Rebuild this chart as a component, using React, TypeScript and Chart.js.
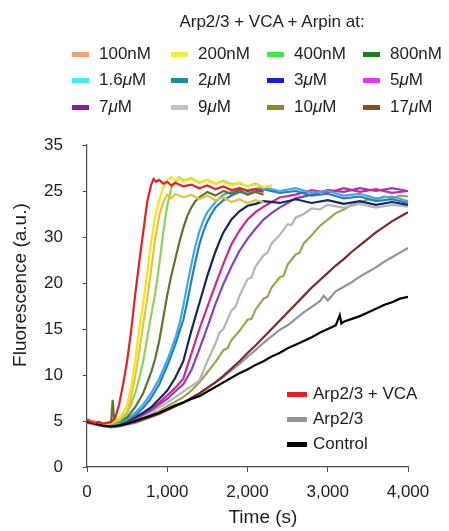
import React, { useEffect, useRef } from 'react';
import { Chart, registerables } from 'chart.js';

Chart.register(...registerables);

// ---------- data (time in s, fluorescence in axis units) ----------
const X_TICKS = [0, 1000, 2000, 3000, 4000];
const Y_TICK_LABELS = ['0', '5', '10', '15', '20', '30', '25', '35'];
const X_TITLE = 'Time (s)';
const Y_TITLE = 'Fluorescence (a.u.)';
const LEGEND_TITLE = 'Arp2/3 + VCA + Arpin at:';

const ARPIN_LABELS = ['100nM', '200nM', '400nM', '800nM', '1.6μM', '2μM', '3μM', '5μM', '7μM', '9μM', '10μM', '17μM'];
const ARPIN_SWATCH_COLORS = ['#f4a070', '#f3ee38', '#3ee83e', '#1d7d1d', '#3ef0f0', '#1e8aa5', '#1a1ae0', '#f030f0', '#8a1a9e', '#c3c3c3', '#8c8a20', '#8a4a1e'];
const ARPIN_LINE_COLORS = ['#ffe01a', '#e6c43a', '#8ed25b', '#5a7431', '#41a9e1', '#1f80c2', '#15265c', '#d3268e', '#8840c0', '#b5b5b5', '#a4a252', '#7a2b26'];

const CONTROL_LABELS = ['Arp2/3 + VCA', 'Arp2/3', 'Control'];
const CONTROL_COLORS = ['#ec1c24', '#93939b', '#000000'];

const VCA = [[0,5.1],[50,4.9],[100,4.8],[150,4.9],[200,4.7],[250,4.8],[300,4.9],[350,5.3],[400,6.8],[450,9.0],[500,11.5],[550,14.8],[600,18.7],[650,22.2],[700,25.5],[750,28.8],[800,30.7],[830,31.3],[860,31.0],[900,31.2],[950,30.8],[1000,31.0],[1050,30.6],[1100,30.9],[1200,30.5],[1300,30.7],[1400,30.3],[1500,30.6],[1600,30.2],[1700,30.5],[1800,30.1],[1900,30.3],[2000,30.0],[2100,30.2],[2200,29.9]];
const A100 = [[0,5.0],[100,4.8],[200,4.6],[300,4.8],[400,5.3],[450,5.9],[500,6.8],[550,8.7],[600,11.5],[650,15.0],[700,17.8],[750,21.0],[800,24.5],[850,27.3],[900,29.0],[950,30.4],[1000,31.2],[1050,31.5],[1100,31.1],[1150,31.4],[1200,31.0],[1300,31.3],[1400,30.9],[1500,31.2],[1600,30.8],[1700,31.0],[1800,30.6],[1900,30.9],[2000,30.5],[2100,30.7],[2200,30.4],[2300,30.6]];
const A200 = [[0,5.1],[100,4.9],[200,4.7],[300,4.8],[400,5.2],[500,6.0],[550,7.6],[600,9.8],[650,12.5],[700,15.5],[750,18.2],[800,21.5],[850,24.8],[900,27.3],[950,28.8],[1000,29.6],[1050,29.2],[1100,29.7],[1200,29.3],[1300,29.6],[1400,29.1],[1500,29.5],[1600,29.0],[1700,29.3],[1800,28.8],[1900,29.1],[2000,28.7],[2100,29.0],[2200,28.8]];
const A400 = [[0,5.0],[100,4.9],[200,4.7],[300,4.7],[400,5.0],[500,5.8],[550,6.8],[600,8.0],[650,9.6],[700,11.5],[750,14.0],[800,16.5],[850,18.9],[900,22.0],[950,25.5],[1000,28.4],[1050,30.3],[1100,31.0],[1150,31.5],[1200,31.1],[1300,31.4],[1400,30.9],[1500,31.2],[1600,30.8],[1700,31.1],[1800,30.7],[1900,30.9],[2000,30.5],[2100,30.8],[2200,30.4],[2300,30.6]];
const A800 = [[0,5.0],[100,4.8],[200,4.6],[300,4.8],[320,7.3],[340,4.9],[400,4.9],[500,5.4],[600,6.5],[700,8.0],[800,10.3],[850,11.8],[900,13.7],[950,16.2],[1000,18.7],[1050,20.8],[1100,22.6],[1150,24.4],[1200,26.0],[1250,27.3],[1300,28.2],[1350,28.9],[1400,29.3],[1500,29.9],[1600,29.5],[1700,30.0],[1800,29.7],[1900,30.1],[2000,29.6],[2100,29.9],[2200,29.6]];
const A1_6 = [[0,5.2],[100,4.9],[200,4.7],[300,4.6],[400,4.8],[500,5.2],[600,5.9],[700,6.8],[800,8.0],[900,9.6],[1000,11.6],[1100,14.0],[1150,15.5],[1200,17.5],[1250,19.8],[1300,22.0],[1350,24.0],[1400,25.6],[1450,26.8],[1500,27.7],[1600,28.8],[1700,29.6],[1800,29.9],[1900,30.3],[2000,30.1],[2200,30.4],[2400,30.0],[2600,30.3],[2800,29.8],[3000,30.0],[3200,29.5],[3400,29.7],[3600,29.2],[3800,29.4],[4000,28.9]];
const A2 = [[0,5.0],[100,4.8],[200,4.6],[300,4.6],[400,4.8],[500,5.1],[600,5.6],[700,6.4],[800,7.5],[900,9.0],[1000,11.0],[1100,13.3],[1200,16.0],[1250,18.0],[1300,20.2],[1350,22.3],[1400,24.2],[1450,25.6],[1500,26.7],[1550,27.5],[1600,28.2],[1700,29.0],[1800,29.5],[1900,29.9],[2000,29.7],[2200,30.2],[2400,29.8],[2600,30.0],[2800,29.5],[3000,29.7],[3200,29.2],[3400,29.4],[3600,28.9],[3800,29.1],[4000,28.7]];
const A3 = [[0,5.0],[100,4.8],[200,4.6],[300,4.5],[400,4.7],[500,5.0],[600,5.4],[700,5.9],[800,6.5],[900,7.4],[1000,8.3],[1100,9.7],[1200,11.5],[1300,14.8],[1350,16.3],[1400,17.8],[1450,19.3],[1500,20.8],[1550,22.1],[1600,23.4],[1650,24.5],[1700,25.5],[1800,26.9],[1900,27.8],[2000,28.4],[2100,28.6],[2200,28.9],[2400,28.7],[2600,29.1],[2800,28.7],[3000,29.0],[3200,28.6],[3400,28.9],[3600,28.5],[3800,28.8],[4000,28.5]];
const A5 = [[0,5.1],[100,4.9],[200,4.6],[300,4.5],[400,4.7],[500,4.9],[600,5.3],[700,5.8],[800,6.4],[900,7.0],[1000,7.8],[1100,8.6],[1200,9.6],[1300,12.3],[1400,15.0],[1500,17.4],[1600,19.8],[1700,22.1],[1800,24.2],[1900,25.7],[2000,26.9],[2100,27.7],[2200,28.3],[2300,28.8],[2400,29.3],[2600,29.6],[2800,30.1],[3000,29.8],[3200,30.3],[3400,29.9],[3600,30.2],[3800,29.8],[4000,30.0]];
const A7 = [[0,5.0],[100,4.8],[200,4.5],[300,4.5],[400,4.6],[500,4.9],[600,5.2],[700,5.7],[800,6.2],[900,6.8],[1000,7.4],[1100,8.2],[1200,9.0],[1300,10.5],[1400,12.8],[1500,15.2],[1600,17.7],[1700,19.9],[1800,21.8],[1900,23.5],[2000,24.8],[2100,25.9],[2200,26.9],[2300,27.6],[2400,28.2],[2500,28.7],[2600,29.2],[2800,29.6],[3000,30.1],[3200,29.9],[3400,30.3],[3600,30.0],[3800,30.3],[4000,30.0]];
const A9 = [[0,4.9],[100,4.7],[200,4.5],[300,4.4],[400,4.6],[500,4.8],[600,5.1],[700,5.5],[800,6.0],[900,6.5],[1000,7.0],[1100,7.6],[1200,8.2],[1300,8.8],[1400,9.4],[1500,11.5],[1600,13.4],[1650,14.6],[1700,15.0],[1800,17.0],[1850,17.4],[1900,18.6],[2000,20.4],[2050,20.6],[2100,21.8],[2200,23.0],[2250,23.3],[2300,24.3],[2400,25.2],[2500,26.4],[2550,26.3],[2600,27.1],[2700,27.5],[2800,28.1],[2900,28.0],[3000,28.5],[3200,28.2],[3400,28.6],[3600,28.2],[3800,28.5],[4000,28.3]];
const A10 = [[0,5.0],[100,4.8],[200,4.5],[300,4.4],[400,4.5],[500,4.7],[600,5.0],[700,5.3],[800,5.7],[900,6.1],[1000,6.6],[1100,7.1],[1200,7.6],[1300,8.3],[1400,9.2],[1500,10.3],[1600,11.4],[1700,12.7],[1750,12.9],[1800,13.8],[1900,14.8],[2000,16.0],[2050,16.1],[2100,17.1],[2200,18.3],[2250,18.5],[2300,19.5],[2400,20.6],[2450,20.8],[2500,22.0],[2600,23.1],[2650,23.3],[2700,24.3],[2800,25.2],[2900,26.2],[3000,26.9],[3100,27.6],[3200,28.0],[3300,28.5],[3400,28.7],[3500,29.1],[3600,29.0],[3700,29.4],[3800,29.2],[3900,29.5],[4000,29.4]];
const A17 = [[0,4.9],[100,4.7],[200,4.5],[300,4.4],[400,4.5],[500,4.7],[600,4.9],[700,5.2],[800,5.5],[900,5.8],[1000,6.2],[1100,6.6],[1200,7.0],[1300,7.5],[1400,8.0],[1500,8.6],[1600,9.2],[1700,9.9],[1800,10.7],[1900,11.5],[2000,12.4],[2100,13.2],[2200,14.1],[2300,15.0],[2400,15.9],[2500,16.8],[2600,17.7],[2700,18.6],[2800,19.5],[2900,20.3],[3000,21.1],[3100,21.9],[3200,22.6],[3300,23.4],[3400,24.1],[3500,24.8],[3600,25.5],[3700,26.1],[3800,26.7],[3900,27.2],[4000,27.7]];
const ARP23 = [[0,4.8],[100,4.6],[200,4.4],[300,4.3],[400,4.4],[500,4.6],[600,4.8],[700,5.1],[800,5.4],[900,5.8],[1000,6.2],[1100,6.6],[1200,7.0],[1300,7.5],[1400,8.0],[1500,8.6],[1600,9.2],[1700,9.8],[1800,10.5],[1900,11.2],[2000,12.0],[2100,12.7],[2200,13.5],[2300,14.2],[2400,14.9],[2500,15.4],[2600,16.1],[2700,16.8],[2800,17.4],[2900,18.0],[2950,18.6],[3000,18.1],[3100,19.1],[3200,19.6],[3300,20.1],[3400,20.7],[3500,21.2],[3600,21.7],[3700,22.3],[3800,22.8],[3900,23.3],[4000,23.8]];
const CONTROL = [[0,4.9],[100,4.7],[200,4.5],[300,4.4],[400,4.5],[500,4.7],[600,5.0],[700,5.3],[800,5.6],[900,5.9],[1000,6.3],[1100,6.7],[1200,7.0],[1300,7.4],[1400,7.7],[1500,8.2],[1600,8.7],[1700,9.2],[1800,9.7],[1900,10.2],[2000,10.6],[2100,11.1],[2200,11.5],[2300,12.0],[2400,12.4],[2500,12.9],[2600,13.3],[2700,13.7],[2800,14.1],[2900,14.6],[3000,15.0],[3100,15.4],[3150,16.5],[3170,15.6],[3200,15.8],[3300,16.1],[3400,16.4],[3500,16.8],[3600,17.2],[3700,17.6],[3800,17.9],[3900,18.3],[4000,18.5]];

const ARPIN_SERIES = [A100, A200, A400, A800, A1_6, A2, A3, A5, A7, A9, A10, A17];
const CONTROL_SERIES = [VCA, ARP23, CONTROL];

const FONT = '"Liberation Sans", Arial, Helvetica, sans-serif';
const TEXT = '#1e1e1e';
const AXIS = '#4a4a4a';

const toPoints = (arr: number[][]) => arr.map(([x, y]) => ({ x, y }));

const titlesPlugin = {
  id: 'axisTitles',
  afterDraw(chart: any) {
    const { ctx, chartArea } = chart;
    const w = chartArea.right - chartArea.left;
    const h = chartArea.bottom - chartArea.top;
    ctx.save();
    ctx.fillStyle = TEXT;
    ctx.font = `19px ${FONT}`;
    ctx.textAlign = 'center';
    ctx.textBaseline = 'middle';
    ctx.fillText(X_TITLE, chartArea.left + w * 0.548, chartArea.bottom + 51);
    ctx.translate(chartArea.left - 66, chartArea.top + h * 0.435);
    ctx.rotate(-Math.PI / 2);
    ctx.fillText(Y_TITLE, 0, 0);
    ctx.restore();
  },
};

function Label({ text }: { text: string }) {
  const parts = text.split('μ');
  if (parts.length === 1) return <>{text}</>;
  return (
    <>
      {parts[0]}
      <i>μ</i>
      {parts[1]}
    </>
  );
}

export default function App() {
  const ref = useRef<HTMLCanvasElement | null>(null);

  useEffect(() => {
    if (!ref.current) return;
    const datasets: any[] = [];
    // red on top: first dataset drawn last
    datasets.push({ label: CONTROL_LABELS[0], data: toPoints(CONTROL_SERIES[0]), borderColor: CONTROL_COLORS[0] });
    datasets.push({ label: CONTROL_LABELS[2], data: toPoints(CONTROL_SERIES[2]), borderColor: CONTROL_COLORS[2] });
    ARPIN_SERIES.forEach((s, i) => {
      datasets.push({ label: ARPIN_LABELS[i], data: toPoints(s), borderColor: ARPIN_LINE_COLORS[i] });
    });
    datasets.push({ label: CONTROL_LABELS[1], data: toPoints(CONTROL_SERIES[1]), borderColor: CONTROL_COLORS[1] });
    datasets.forEach((d) => {
      d.borderWidth = 2.2;
      d.pointRadius = 0;
      d.tension = 0;
      d.fill = false;
    });

    const chart = new Chart(ref.current, {
      type: 'line',
      data: { datasets },
      plugins: [titlesPlugin],
      options: {
        animation: false,
        responsive: false,
        devicePixelRatio: 1,
        layout: { padding: { top: 145, right: 41, left: 0, bottom: 0 } },
        plugins: { legend: { display: false }, tooltip: { enabled: false } },
        scales: {
          x: {
            type: 'linear',
            min: 0,
            max: 4000,
            afterFit: (s: any) => { s.height = 64; },
            afterBuildTicks: (s: any) => { s.ticks = X_TICKS.map((v) => ({ value: v })); },
            ticks: {
              padding: 10,
              color: TEXT,
              font: { family: FONT, size: 17 },
              maxRotation: 0,
              callback: (v: any) => Number(v).toLocaleString('en-US'),
            },
            grid: { drawOnChartArea: false, drawTicks: true, tickLength: 5, color: AXIS },
            border: { color: AXIS, width: 1.2 },
          },
          y: {
            type: 'linear',
            min: 0,
            max: 35,
            afterFit: (s: any) => { s.width = 87; },
            ticks: {
              stepSize: 5,
              padding: 20,
              color: TEXT,
              font: { family: FONT, size: 17 },
              callback: (v: any) => Y_TICK_LABELS[Math.round(Number(v) / 5)] ?? '',
            },
            grid: { drawOnChartArea: false, drawTicks: true, tickLength: 4, color: AXIS },
            border: { color: AXIS, width: 1.2 },
          },
        },
      } as any,
    });
    return () => chart.destroy();
  }, []);

  const colX = [72, 171, 267, 363];
  const rowY = [54, 80, 107];
  const innerY = [394, 419, 444];

  const textStyle: React.CSSProperties = {
    position: 'absolute',
    fontFamily: FONT,
    fontSize: 17,
    lineHeight: '20px',
    color: TEXT,
    whiteSpace: 'nowrap',
    transform: 'translateY(-50%)',
  };

  return (
    <div style={{ position: 'absolute', left: 0, top: 0, width: 449, height: 531, background: '#fff', overflow: 'hidden' }}>
      <canvas ref={ref} width={449} height={531} style={{ position: 'absolute', left: 0, top: 0, width: 449, height: 531 }} />
      <div style={{ ...textStyle, left: 0, width: 544, textAlign: 'center', top: 22 }}>{LEGEND_TITLE}</div>
      {ARPIN_LABELS.map((lab, i) => {
        const c = i % 4;
        const r = Math.floor(i / 4);
        return (
          <React.Fragment key={lab}>
            <div style={{ position: 'absolute', left: colX[c], top: rowY[r] - 2.5, width: 17, height: 5, background: ARPIN_SWATCH_COLORS[i] }} />
            <div style={{ ...textStyle, left: colX[c] + 27, top: rowY[r] }}>
              <Label text={lab} />
            </div>
          </React.Fragment>
        );
      })}
      {CONTROL_LABELS.map((lab, i) => (
        <React.Fragment key={lab}>
          <div style={{ position: 'absolute', left: 287, top: innerY[i] - 2.5, width: 20, height: 5, background: CONTROL_COLORS[i] }} />
          <div style={{ ...textStyle, left: 313, top: innerY[i] }}>{lab}</div>
        </React.Fragment>
      ))}
    </div>
  );
}
